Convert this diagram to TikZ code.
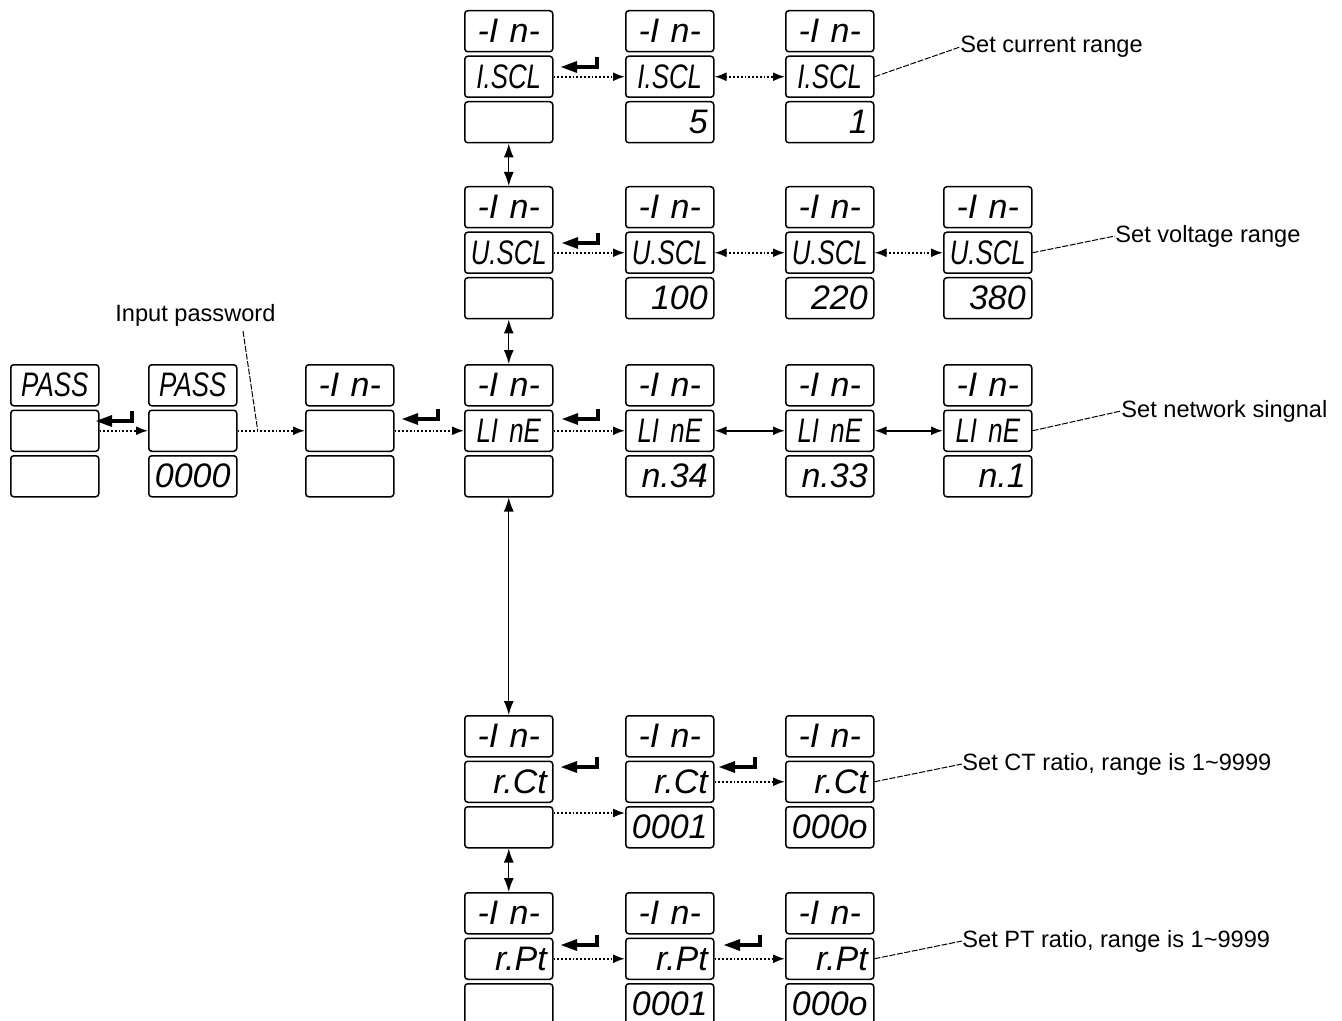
\documentclass[tikz,border=0pt]{standalone}
\usepackage{fontspec}
\setmainfont{Liberation Sans}
\newfontfamily\segA{Liberation Sans}
\newfontfamily\segB[FakeStretch=0.76]{Liberation Sans}
\usetikzlibrary{arrows.meta,calc}
\newcommand\mkdisp[8]{%
  \node[dbox,align=center] (#1t) at (#2,#3) {#4};
  \node[dbox,align=#5] (#1m) at (#2,#3+45.5) {#6};
  \node[dbox,align=#7] (#1b) at (#2,#3+91) {#8};
}
\newcommand\enterkey[2]{%
  \draw[line width=2.2pt] (#1,#2-10) -- (#1,#2) -- (#1-22,#2);
  \fill (#1-20,#2-6) -- (#1-36,#2) -- (#1-20,#2+6) -- cycle;
}
\tikzset{
  dbox/.style={draw, rounded corners=1.5pt, line width=0.75pt,
    minimum height=20.5pt, text width=38pt, inner xsep=3pt, inner ysep=0pt,
    anchor=north west, font=\segA\itshape\fontsize{17}{17}\selectfont},
  arr/.style={densely dotted, line width=0.9pt, -{Latex[length=6pt,width=4.5pt]}},
  darr/.style={densely dotted, line width=0.9pt, {Latex[length=6pt,width=4.5pt]}-{Latex[length=6pt,width=4.5pt]}},
  varr/.style={line width=0.6pt, {Latex[length=7pt,width=5pt]}-{Latex[length=7pt,width=5pt]}},
  lead/.style={dash pattern=on 3pt off 0.8pt, line width=0.5pt},
  lbl/.style={anchor=west, inner sep=0pt, font=\fontsize{11.8}{12}\selectfont}
}
\begin{document}
\begin{tikzpicture}[x=0.5pt,y=-0.5pt]
\useasboundingbox (0,0) rectangle (1342,1021);
% password / entry row
\mkdisp{A1}{10}{364}{{\segB PASS}}{center}{}{center}{}
\mkdisp{A2}{148}{364}{{\segB PASS}}{center}{}{center}{0000}
\mkdisp{A3}{305}{364}{-I n-}{center}{}{center}{}
% current range group
\mkdisp{I4}{464}{10}{-I n-}{center}{{\segB I.SCL}}{center}{}
\mkdisp{I5}{625}{10}{-I n-}{center}{{\segB I.SCL}}{right}{5}
\mkdisp{I6}{785}{10}{-I n-}{center}{{\segB I.SCL}}{right}{1}
% voltage range group
\mkdisp{U4}{464}{186}{-I n-}{center}{{\segB U.SCL}}{center}{}
\mkdisp{U5}{625}{186}{-I n-}{center}{{\segB U.SCL}}{right}{100}
\mkdisp{U6}{785}{186}{-I n-}{center}{{\segB U.SCL}}{right}{220}
\mkdisp{U7}{943}{186}{-I n-}{center}{{\segB U.SCL}}{right}{380}
% network group
\mkdisp{L4}{464}{364}{-I n-}{center}{{\segB LI\ nE}}{center}{}
\mkdisp{L5}{625}{364}{-I n-}{center}{{\segB LI\ nE}}{right}{n.34}
\mkdisp{L6}{785}{364}{-I n-}{center}{{\segB LI\ nE}}{right}{n.33}
\mkdisp{L7}{943}{364}{-I n-}{center}{{\segB LI\ nE}}{right}{n.1}
% CT group
\mkdisp{C4}{464}{715}{-I n-}{right}{r.Ct}{center}{}
\mkdisp{C5}{625}{715}{-I n-}{right}{r.Ct}{center}{0001}
\mkdisp{C6}{785}{715}{-I n-}{right}{r.Ct}{center}{000o}
% PT group
\mkdisp{T4}{464}{892}{-I n-}{right}{r.Pt}{center}{}
\mkdisp{T5}{625}{892}{-I n-}{right}{r.Pt}{center}{0001}
\mkdisp{T6}{785}{892}{-I n-}{right}{r.Pt}{center}{000o}

% horizontal connectors
\draw[arr] (A1m.east) -- (A2m.west);
\draw[arr] (A2m.east) -- (A3m.west);
\draw[arr] (A3m.east) -- (L4m.west);
\draw[arr] (I4m.east) -- (I5m.west);
\draw[darr] (I5m.east) -- (I6m.west);
\draw[arr] (U4m.east) -- (U5m.west);
\draw[darr] (U5m.east) -- (U6m.west);
\draw[darr] (U6m.east) -- (U7m.west);
\draw[arr] (L4m.east) -- (L5m.west);
\draw[darr,solid] (L5m.east) -- (L6m.west);
\draw[darr,solid] (L6m.east) -- (L7m.west);
\draw[arr] ([yshift=-3.5pt]C4b.north east) -- ([yshift=-3.5pt]C5b.north west);
\draw[arr] (C5m.east) -- (C6m.west);
\draw[arr] (T4m.east) -- (T5m.west);
\draw[arr] (T5m.east) -- (T6m.west);

% vertical connectors
\draw[varr] (I4b.south) -- (U4t.north);
\draw[varr] (U4b.south) -- (L4t.north);
\draw[varr] (L4b.south) -- (C4t.north);
\draw[varr] (C4b.south) -- (T4t.north);

% enter keys
\enterkey{132}{421}
\enterkey{438}{419}
\enterkey{597}{67}
\enterkey{598}{243}
\enterkey{598}{419}
\enterkey{597}{767}
\enterkey{755}{767}
\enterkey{597}{945}
\enterkey{760}{945}

% labels
\node[lbl] (pw) at (115,315) {Input password};
\coordinate (pwa) at (243,331);
\coordinate (pwb) at ($(A2m.east)!0.3!(A3m.west)$);
\draw[lead] (pwa) -- (pwb);
\node[lbl] (lI) at (960,47) {Set current range};
\node[lbl] (lU) at (1115,236) {Set voltage range};
\node[lbl] (lL) at (1121,411) {Set network singnal};
\node[lbl] (lC) at (962,764) {Set CT ratio, range is 1\textasciitilde9999};
\node[lbl] (lT) at (962,941) {Set PT ratio, range is 1\textasciitilde9999};
\draw[lead] (I6m.east) -- (lI.west);
\draw[lead] (U7m.east) -- (lU.west);
\draw[lead] (L7m.east) -- (lL.west);
\draw[lead] (C6m.east) -- (lC.west);
\draw[lead] (T6m.east) -- (lT.west);
\end{tikzpicture}
\end{document}
